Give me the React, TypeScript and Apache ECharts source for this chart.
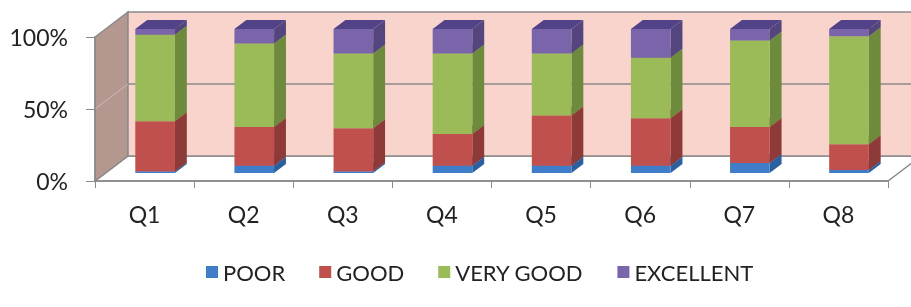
import React, { useEffect, useRef } from "react";
import * as echarts from "echarts";

const categories = ["Q1", "Q2", "Q3", "Q4", "Q5", "Q6", "Q7", "Q8"];
const seriesNames = ["POOR", "GOOD", "VERY GOOD", "EXCELLENT"];
const poor = [1, 5, 1, 5, 5, 5, 7, 2];
const good = [35, 27, 30, 22, 35, 33, 25, 18];
const veryGood = [60, 58, 52, 56, 43, 42, 60, 75];
const excellent = [4, 10, 17, 17, 17, 20, 8, 5];
const yTicks = [0, 50, 100];

const frontColors = ["#3f7dc8", "#c0504d", "#9bbb59", "#7a64aa"];
const sideColors = ["#2c5f9e", "#8e3a38", "#6e8a3c", "#54457f"];
const topColors = ["#3569ab", "#a24442", "#83a04a", "#524389"];

const DX = 33;
const DY = -25;
const FRONT = 0.32;
const BACK = 0.68;
const BAR_RATIO = 0.4;

export default function App() {
  const ref = useRef<HTMLDivElement>(null);
  useEffect(() => {
    if (!ref.current) return;
    const chart = echarts.init(ref.current, undefined, { renderer: "svg" });
    const values = [poor, good, veryGood, excellent];
    const cum = categories.map(() => 0);
    const barSeries = values.map((arr, si) => {
      const data = arr.map((v, i) => {
        const lo = cum[i];
        const hi = cum[i] + v;
        cum[i] = hi;
        return [i, lo, hi];
      });
      return {
        type: "custom",
        name: seriesNames[si],
        clip: false,
        itemStyle: { color: frontColors[si] },
        encode: { x: 0, y: [1, 2] },
        data,
        renderItem: (params: any, api: any) => {
          const c = api.value(0);
          const lo = api.value(1);
          const hi = api.value(2);
          if (hi - lo <= 0) return null;
          const p0 = api.coord([c, lo]);
          const p1 = api.coord([c, hi]);
          const bw = api.size([1, 0])[0] * BAR_RATIO;
          const fx = DX * FRONT;
          const fy = DY * FRONT;
          const sx = DX * (BACK - FRONT);
          const sy = DY * (BACK - FRONT);
          const x0 = p0[0] + fx - bw / 2;
          const x1 = p0[0] + fx + bw / 2;
          const y0 = p0[1] + fy;
          const y1 = p1[1] + fy;
          return {
            type: "group",
            children: [
              {
                type: "polygon",
                shape: { points: [[x1, y0], [x1, y1], [x1 + sx, y1 + sy], [x1 + sx, y0 + sy]] },
                style: { fill: sideColors[si] },
              },
              {
                type: "polygon",
                shape: { points: [[x0, y1], [x1, y1], [x1 + sx, y1 + sy], [x0 + sx, y1 + sy]] },
                style: { fill: topColors[si] },
              },
              {
                type: "rect",
                shape: { x: x0, y: y1, width: bw, height: y0 - y1 },
                style: { fill: frontColors[si] },
              },
            ],
          };
        },
      };
    });

    const wallSeries = {
      type: "custom",
      name: "walls",
      clip: false,
      silent: true,
      data: [[0, 0]],
      encode: { x: 0, y: 1 },
      renderItem: (params: any, api: any) => {
        const cs = params.coordSys;
        const L = cs.x;
        const R = cs.x + cs.width;
        const T = api.coord([0, yTicks[yTicks.length - 1]])[1];
        const B = api.coord([0, yTicks[0]])[1];
        const M = api.coord([0, yTicks[1]])[1];
        const stroke = "#8a8a8a";
        return {
          type: "group",
          children: [
            {
              type: "polygon",
              shape: { points: [[L, B], [R, B], [R + DX, B + DY], [L + DX, B + DY]] },
              style: { fill: "#ffffff", stroke, lineWidth: 1.5 },
            },
            {
              type: "polygon",
              shape: { points: [[L, B], [L, T], [L + DX, T + DY], [L + DX, B + DY]] },
              style: { fill: "#b4978e", stroke, lineWidth: 1.5 },
            },
            {
              type: "polygon",
              shape: { points: [[L + DX, T + DY], [R + DX + 40, T + DY], [R + DX + 40, B + DY], [L + DX, B + DY]] },
              style: { fill: "#f9d4cc", stroke, lineWidth: 1.5 },
            },
            {
              type: "line",
              shape: { x1: L + DX, y1: M + DY, x2: R + DX + 40, y2: M + DY },
              style: { stroke, lineWidth: 1.5 },
            },
            {
              type: "line",
              shape: { x1: L, y1: M, x2: L + DX, y2: M + DY },
              style: { stroke: "#cdbab4", lineWidth: 1 },
            },
          ],
        };
      },
    };

    chart.setOption({
      animation: false,
      grid: { left: 95, right: 23, top: 37, bottom: 126 },
      legend: {
        data: seriesNames,
        left: 201,
        top: 256,
        icon: "rect",
        itemWidth: 12,
        itemHeight: 12,
        itemGap: 34,
        textStyle: { fontFamily: "Lato", fontSize: 22, color: "#222" },
      },
      xAxis: {
        type: "category",
        data: categories,
        axisLine: { lineStyle: { color: "#8a8a8a", width: 1.5 } },
        axisTick: { show: true, length: 7, lineStyle: { color: "#8a8a8a" } },
        axisLabel: { margin: 21, fontFamily: "Lato", fontSize: 23, color: "#222" },
        z: 5,
      },
      yAxis: {
        type: "value",
        min: 0,
        max: 100,
        interval: 50,
        axisLine: { show: true, lineStyle: { color: "#8a8a8a", width: 1.5 } },
        axisTick: { show: true, length: 9, lineStyle: { color: "#8a8a8a" } },
        splitLine: { show: false },
        axisLabel: { margin: 27, formatter: "{value}%", fontFamily: "Lato", fontSize: 23, color: "#222" },
        z: 5,
      },
      series: [wallSeries, ...barSeries],
    });
    return () => chart.dispose();
  }, []);
  return <div ref={ref} style={{ position: "fixed", left: 0, top: 0, width: 911, height: 307 }} />;
}
